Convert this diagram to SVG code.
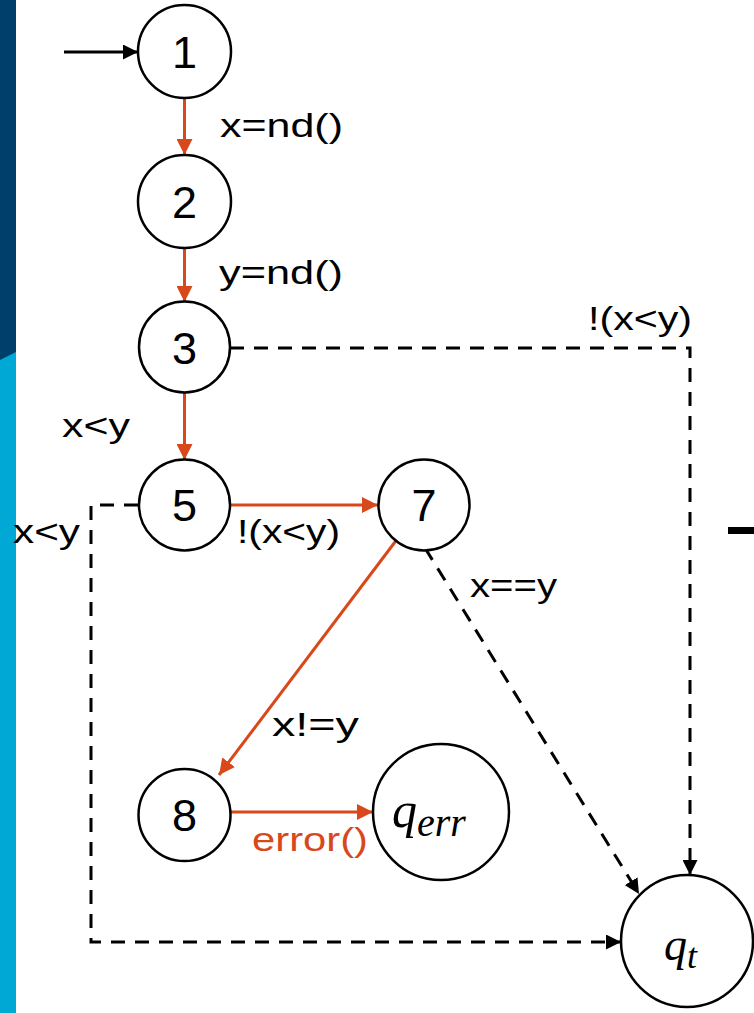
<svg xmlns="http://www.w3.org/2000/svg" width="754" height="1013" viewBox="0 0 754 1013">
<style>
.node{fill:#fff;stroke:#000;stroke-width:2.5}
.num{font-family:"Liberation Sans",Arial,sans-serif;font-size:45px;text-anchor:middle;fill:#000}
.lbl{font-family:"Liberation Sans",Arial,sans-serif;font-size:33px;fill:#000}
.red{stroke:#D9481B;stroke-width:3;fill:none}
.dash{stroke:#000;stroke-width:3;fill:none;stroke-dasharray:14 10}
.solid{stroke:#000;stroke-width:3;fill:none}
.math{font-family:"Liberation Serif","Times New Roman",serif;font-style:italic;fill:#000}
</style>
<defs>
<marker id="ar" viewBox="0 0 10 10" refX="10" refY="5" markerWidth="16" markerHeight="16" markerUnits="userSpaceOnUse" orient="auto"><path d="M0,0 L10,5 L0,10 z" fill="#D9481B"/></marker>
<marker id="ab" viewBox="0 0 10 10" refX="10" refY="5" markerWidth="15" markerHeight="15" markerUnits="userSpaceOnUse" orient="auto"><path d="M0,0 L10,5 L0,10 z" fill="#000"/></marker>
</defs>
<rect x="0" y="0" width="754" height="1013" fill="#fff"/>
<rect x="0" y="0" width="16" height="362" fill="#003F6B"/>
<polygon points="0,360 16,352 16,1013 0,1013" fill="#00A8D6"/>
<rect x="728" y="527" width="26" height="7" fill="#000"/>
<g id="connectors">
<line class="solid" x1="64" y1="52" x2="138" y2="52" marker-end="url(#ab)"/>
<line class="red" x1="184.5" y1="98" x2="184.5" y2="155" marker-end="url(#ar)"/>
<line class="red" x1="184.5" y1="248" x2="184.5" y2="302" marker-end="url(#ar)"/>
<line class="red" x1="184.5" y1="393" x2="184.5" y2="460" marker-end="url(#ar)"/>
<polyline class="dash" points="230,348 690,348 690,875" marker-end="url(#ab)"/>
<line class="red" x1="230" y1="505" x2="378" y2="505" marker-end="url(#ar)"/>
<polyline class="dash" points="138,505 91,505 91,942 621,942" marker-end="url(#ab)"/>
<line class="dash" x1="425" y1="548" x2="639" y2="894" marker-end="url(#ab)"/>
<line class="red" x1="398" y1="538" x2="219" y2="775" marker-end="url(#ar)"/>
<line class="red" x1="231" y1="812" x2="373" y2="812" marker-end="url(#ar)"/>
<text class="lbl" x="220" y="137" textLength="123" lengthAdjust="spacingAndGlyphs">x=nd()</text>
<text class="lbl" x="219" y="284" textLength="124" lengthAdjust="spacingAndGlyphs">y=nd()</text>
<text class="lbl" x="62" y="437" textLength="68" lengthAdjust="spacingAndGlyphs">x&lt;y</text>
<text class="lbl" x="588" y="330" textLength="104" lengthAdjust="spacingAndGlyphs">!(x&lt;y)</text>
<text class="lbl" x="237" y="543" textLength="103" lengthAdjust="spacingAndGlyphs">!(x&lt;y)</text>
<text class="lbl" x="13" y="543" textLength="67" lengthAdjust="spacingAndGlyphs">x&lt;y</text>
<text class="lbl" x="470" y="597" textLength="87" lengthAdjust="spacingAndGlyphs">x==y</text>
<text class="lbl" x="272" y="736" textLength="87" lengthAdjust="spacingAndGlyphs">x!=y</text>
<text class="lbl" x="252" y="851" textLength="116" lengthAdjust="spacingAndGlyphs" style="fill:#D9481B">error()</text>
</g>
<g id="n1"><circle class="node" cx="184.5" cy="51.5" r="46.5"/><text class="num" x="184.5" y="68">1</text></g>
<g id="n2"><circle class="node" cx="184.5" cy="201.5" r="46.5"/><text class="num" x="184.5" y="218">2</text></g>
<g id="n3"><circle class="node" cx="184.5" cy="347" r="45.5"/><text class="num" x="184.5" y="364">3</text></g>
<g id="n5"><circle class="node" cx="184.5" cy="505" r="45.5"/><text class="num" x="184.5" y="521">5</text></g>
<g id="n7"><circle class="node" cx="424" cy="505" r="45.5"/><text class="num" x="424" y="521">7</text></g>
<g id="n8"><circle class="node" cx="184.5" cy="815" r="46"/><text class="num" x="184.5" y="831">8</text></g>
<g id="qerr"><circle class="node" cx="441" cy="812" r="68"/><text class="math" x="392" y="827" font-size="50">q<tspan font-size="40" dy="9">err</tspan></text></g>
<g id="qt"><circle class="node" cx="687" cy="941" r="66"/><text class="math" x="664" y="960" font-size="46">q<tspan font-size="36" dy="8">t</tspan></text></g>
</svg>
